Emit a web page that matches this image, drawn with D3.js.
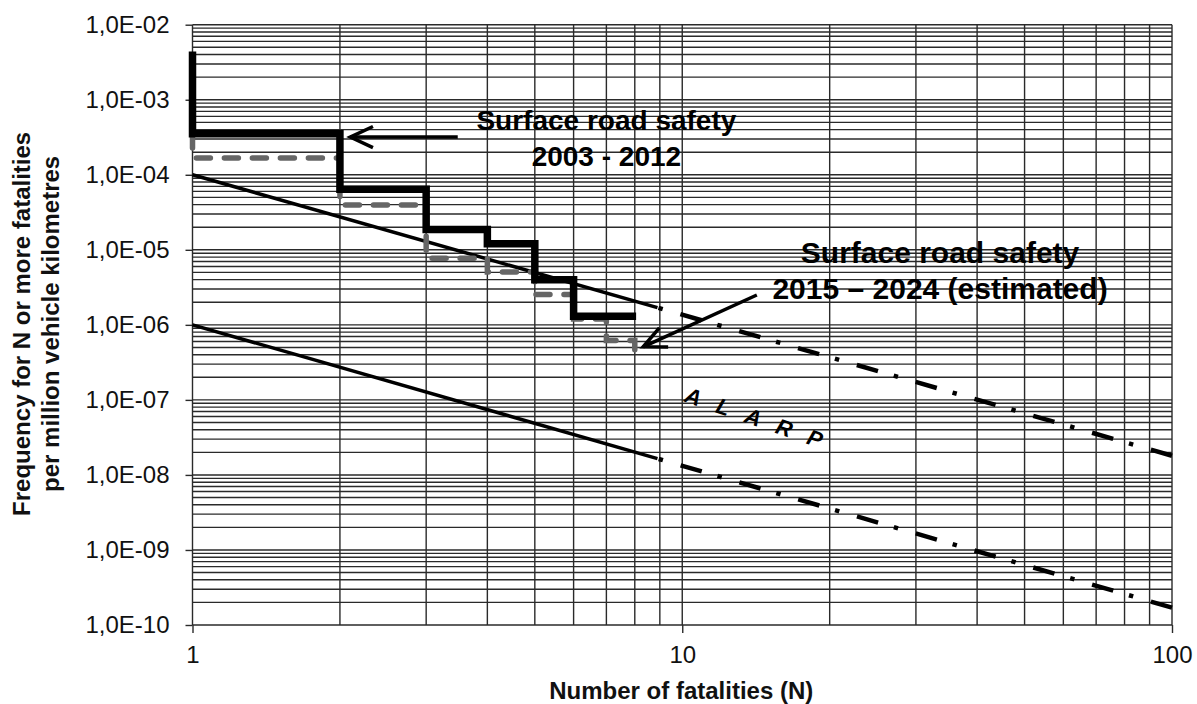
<!DOCTYPE html>
<head>
  <meta charset="utf-8">
  <script src="https://d3js.org/d3.v7.min.js"></script>
  <style>
    body { margin:0; background:#fff; font-family: "Liberation Sans", Arial, sans-serif; }
  </style>
</head>
<body>
  <script>
    // F-N curve data (N = number of fatalities, F = frequency per million vehicle km)
    var stepN2003 = [1, 1, 2, 3, 4, 5, 6, 8.05];
    var stepF2003 = [4.4e-3, 3.53e-4, 6.4e-5, 1.87e-5, 1.2e-5, 4.0e-6, 1.3e-6, 1.3e-6];
    var stepN2015 = [1, 1, 2, 3, 4, 5, 6, 7, 8, 8];
    var stepF2015 = [3.5e-4, 1.67e-4, 3.95e-5, 7.7e-6, 5.06e-6, 2.54e-6, 1.2e-6, 6.2e-7, 6.2e-7, 4.3e-7];
    var limitN = [1, 8.9, 100];
    var upperLimitF = [1e-4, 1.7e-6, 1.8e-8];
    var lowerLimitF = [1e-6, 1.65e-8, 1.7e-10];

    var yTickValues = [1e-10, 1e-9, 1e-8, 1e-7, 1e-6, 1e-5, 1e-4, 1e-3, 1e-2];
    var yTickLabels = ["1,0E-10", "1,0E-09", "1,0E-08", "1,0E-07", "1,0E-06", "1,0E-05", "1,0E-04", "1,0E-03", "1,0E-02"];
    var xTickValues = [1, 10, 100];
    var xTickLabels = ["1", "10", "100"];

    // annotation anchors in data units
    var arrow2003 = [[3.48, 3.18e-4], [2.1, 3.18e-4]];
    var arrow2015 = [[14.2, 2.5e-6], [8.32, 5.1e-7]];
    var label2003 = { n: 7.0, f: 3.95e-4, size: 28, lines: ["Surface road safety", "2003 - 2012"] };
    var label2015 = { n: 33.6, f: 6.7e-6, size: 30, lines: ["Surface road safety", "2015 \u2013 2024 (estimated)"] };
    var alarpAnchor = { n: 10.05, f: 9.6e-8, text: "ALARP" };

    var W = 1197, H = 704;
    var svg = d3.select("body").append("svg")
      .attr("width", W)
      .attr("height", H);

    var x = d3.scaleLog().domain([1, 100]).range([192.5, 1172]);
    var y = d3.scaleLog().domain([1e-10, 1e-2]).range([625, 24.7]);

    var gridColor = "#2a2a2a";
    var gridWidth = 1.4;

    // grid
    svg.append("g").selectAll("line")
      .data(y.ticks())
      .enter().append("line")
      .attr("x1", x(1)).attr("x2", x(100))
      .attr("y1", function(d) { return y(d); })
      .attr("y2", function(d) { return y(d); })
      .style("stroke", gridColor).style("stroke-width", gridWidth);

    svg.append("g").selectAll("line")
      .data(x.ticks())
      .enter().append("line")
      .attr("x1", function(d) { return x(d); })
      .attr("x2", function(d) { return x(d); })
      .attr("y1", y(1e-2)).attr("y2", y(1e-10))
      .style("stroke", gridColor).style("stroke-width", gridWidth);

    // axes
    var yaxis = d3.axisLeft(y)
      .tickValues(yTickValues)
      .tickSize(7)
      .tickPadding(16)
      .tickFormat(function(d, i) { return yTickLabels[i]; });
    var gy = svg.append("g")
      .attr("transform", "translate(" + x(1) + ",0)")
      .call(yaxis);
    gy.select(".domain").remove();
    gy.selectAll("line").style("stroke", gridColor).style("stroke-width", gridWidth);
    gy.selectAll("text").style("font-size", "24px").style("fill", "#111")
      .style("font-family", "'Liberation Sans', Arial, sans-serif");

    var xaxis = d3.axisBottom(x)
      .tickValues(xTickValues)
      .tickSize(8)
      .tickPadding(13)
      .tickFormat(function(d, i) { return xTickLabels[i]; });
    var gx = svg.append("g")
      .attr("transform", "translate(0," + y(1e-10) + ")")
      .call(xaxis);
    gx.select(".domain").remove();
    gx.selectAll("line").style("stroke", gridColor).style("stroke-width", gridWidth);
    gx.selectAll("text").style("font-size", "24px").style("fill", "#111")
      .style("font-family", "'Liberation Sans', Arial, sans-serif");

    // axis titles
    svg.append("text")
      .text("Number of fatalities (N)")
      .attr("x", (x(1) + x(100)) / 2 - 1)
      .attr("y", 699)
      .attr("text-anchor", "middle")
      .style("font-size", "24px")
      .style("font-weight", "bold")
      .style("fill", "#111");

    var yTitle = svg.append("g")
      .attr("transform", "translate(0," + ((y(1e-2) + y(1e-10)) / 2 - 1) + ") rotate(-90)");
    yTitle.append("text")
      .text("Frequency for N or more fatalities")
      .attr("x", 0).attr("y", 30)
      .attr("text-anchor", "middle")
      .style("font-size", "24px").style("font-weight", "bold").style("fill", "#111");
    yTitle.append("text")
      .text("per million vehicle kilometres")
      .attr("x", 0).attr("y", 59)
      .attr("text-anchor", "middle")
      .style("font-size", "24px").style("font-weight", "bold").style("fill", "#111");

    // limit lines
    function pts(ns, fs) { return ns.map(function(n, i) { return [n, fs[i]]; }); }
    var line = d3.line()
      .x(function(d) { return x(d[0]); })
      .y(function(d) { return y(d[1]); });

    [upperLimitF, lowerLimitF].forEach(function(fs) {
      var p = pts(limitN, fs);
      svg.append("path")
        .attr("d", line(p.slice(0, 2)))
        .style("fill", "none").style("stroke", "#000").style("stroke-width", 3.5);
      // dash-dot continuation, drawn from the right end so the pattern ends on a dash
      svg.append("path")
        .attr("d", line(p.slice(1).reverse()))
        .style("fill", "none").style("stroke", "#000").style("stroke-width", 4.5)
        .style("stroke-dasharray", "22,18.4,4.4,16.4");
    });

    // estimated 2015-2024 steps (grey dashed)
    var stepLine = d3.line()
      .curve(d3.curveStepAfter)
      .x(function(d) { return x(d[0]); })
      .y(function(d) { return y(d[1]); });

    svg.append("path")
      .attr("d", stepLine(pts(stepN2015, stepF2015)))
      .style("fill", "none").style("stroke", "#666").style("stroke-width", 5.5)
      .style("stroke-linecap", "round")
      .style("stroke-dasharray", "14,14");

    // 2003-2012 steps (black)
    svg.append("path")
      .attr("d", stepLine(pts(stepN2003, stepF2003)))
      .style("fill", "none").style("stroke", "#000").style("stroke-width", 7.5)
      .style("stroke-linejoin", "miter");

    // arrows
    function arrow(a) {
      var x0 = x(a[0][0]), y0 = y(a[0][1]), x1 = x(a[1][0]), y1 = y(a[1][1]);
      var ang = Math.atan2(y0 - y1, x0 - x1);
      var len = 25, spread = 25 * Math.PI / 180;
      svg.append("path")
        .attr("d", "M" + x0 + "," + y0 + "L" + x1 + "," + y1)
        .style("stroke", "#000").style("stroke-width", 3.5).style("fill", "none");
      svg.append("path")
        .attr("d", "M" + (x1 + len * Math.cos(ang + spread)) + "," + (y1 + len * Math.sin(ang + spread)) +
                   "L" + x1 + "," + y1 +
                   "L" + (x1 + len * Math.cos(ang - spread)) + "," + (y1 + len * Math.sin(ang - spread)))
        .style("stroke", "#000").style("stroke-width", 3.5).style("fill", "none")
        .style("stroke-linejoin", "miter");
    }
    arrow(arrow2003);
    arrow(arrow2015);

    // labels
    [label2003, label2015].forEach(function(l) {
      l.lines.forEach(function(t, i) {
        svg.append("text")
          .text(t)
          .attr("x", x(l.n))
          .attr("y", y(l.f) + i * 36)
          .attr("text-anchor", "middle")
          .style("font-size", l.size + "px")
          .style("font-weight", "bold")
          .style("fill", "#000");
      });
    });

    svg.append("text")
      .text(alarpAnchor.text)
      .attr("transform", "translate(" + x(alarpAnchor.n) + "," + y(alarpAnchor.f) + ") rotate(19)")
      .style("font-size", "22px")
      .style("font-weight", "bold")
      .style("font-style", "italic")
      .style("letter-spacing", "17px")
      .style("fill", "#000");
  </script>
</body>
